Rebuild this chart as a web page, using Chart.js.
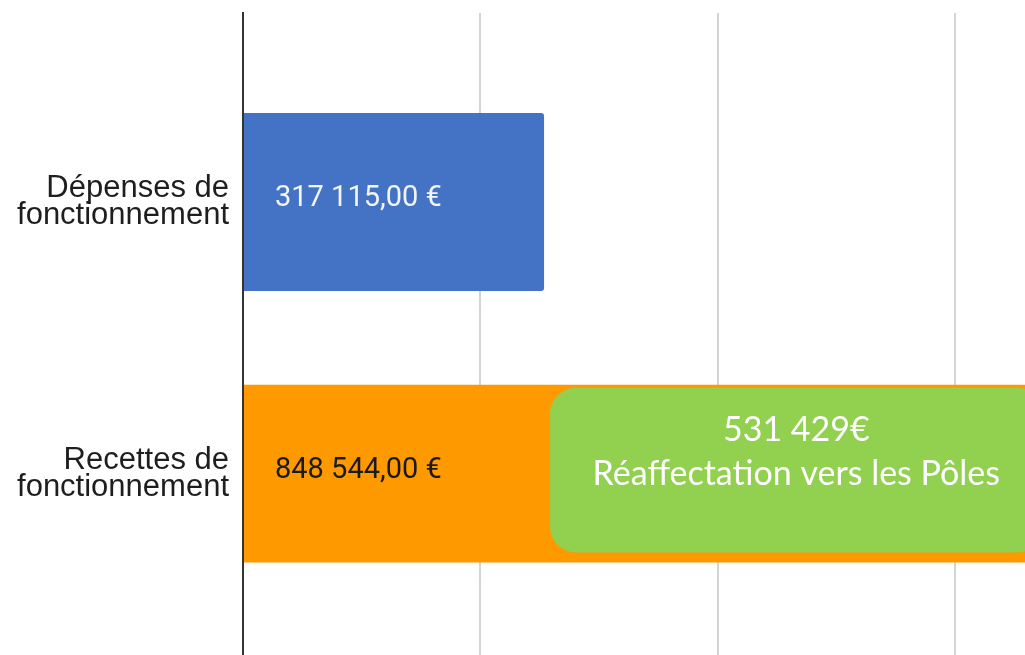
<!DOCTYPE html>
<html>
<head>
<meta charset="utf-8">
<script src="https://cdn.jsdelivr.net/npm/chart.js@4/dist/chart.umd.min.js"></script>
<style>
  body { margin: 0; background: #fff; }
  #wrap { width: 1025px; height: 655px; }
</style>
</head>
<body>
<div id="wrap"><canvas id="myChart"></canvas></div>
<script>
// data
const categories = [["Dépenses de", "fonctionnement"], ["Recettes de", "fonctionnement"]];
const values = [317115, 848544];
const valueLabels = ["317 115,00 €", "848 544,00 €"];
const xTicks = [0, 250000, 500000, 750000];
const reaffectationLines = ["531 429€", "Réaffectation vers les Pôles"];
const barColors = ["#4472c4", "#ff9900"];
const labelColors = ["#f2f5fb", "#1a1a1a"];

// value text inside each bar + green callout on the second bar
const barText = {
  id: "barText",
  afterDatasetsDraw(chart) {
    const c = chart.ctx;
    const meta = chart.getDatasetMeta(0);
    const xs = chart.scales.x;
    c.save();
    c.font = "29px Roboto";
    c.textBaseline = "middle";
    c.textAlign = "left";
    meta.data.forEach((bar, i) => {
      c.fillStyle = labelColors[i];
      c.fillText(valueLabels[i], bar.base + 31, bar.y - 3);
    });

    const b = meta.data[1];
    const x1 = xs.getPixelForValue(values[0]) + 6;
    const x2 = xs.getPixelForValue(values[1]) - 6;
    const y1 = b.y - b.height / 2 + 3;
    const y2 = b.y + b.height / 2 - 10;
    c.fillStyle = "#92d050";
    c.beginPath();
    c.roundRect(x1, y1, x2 - x1, y2 - y1, 26);
    c.fill();
    c.fillStyle = "#ffffff";
    c.font = "34px Lato";
    c.textAlign = "center";
    c.textBaseline = "alphabetic";
    const cx = (x1 + x2) / 2;
    c.fillText(reaffectationLines[0], cx, y1 + 53);
    c.fillText(reaffectationLines[1], cx, y1 + 97);
    c.restore();
  }
};

const ctx = document.getElementById("myChart").getContext("2d");
const myChart = new Chart(ctx, {
  type: "bar",
  data: {
    datasets: [
      {
        data: values.map((v, i) => ({ x: v, y: i })),
        backgroundColor: barColors,
        borderRadius: 3,
        borderSkipped: "start",
        categoryPercentage: 1,
        barPercentage: 0.655,
      },
    ],
  },
  options: {
    indexAxis: "y",
    responsive: true,
    maintainAspectRatio: false,
    animation: false,
    layout: { padding: { top: 13, right: 0, bottom: 0, left: 0 } },
    plugins: {
      legend: { display: false },
      tooltip: { enabled: false },
    },
    scales: {
      x: {
        type: "linear",
        min: 0,
        max: 823700,
        ticks: { display: false },
        afterBuildTicks: (s) => {
          s.ticks = xTicks.map((v) => ({ value: v }));
        },
        afterFit: (s) => {
          s.height = 0;
        },
        grid: { display: true, color: "#d4d4d4", lineWidth: 2, drawTicks: false },
        border: { display: false },
      },
      y: {
        type: "linear",
        reverse: true,
        offset: false,
        min: -0.696,
        max: 1.668,
        afterBuildTicks: (s) => {
          s.ticks = categories.map((c, i) => ({ value: i }));
        },
        afterFit: (s) => {
          s.width = 243;
          s.paddingTop = 0;
          s.paddingBottom = 0;
        },
        ticks: {
          callback: (v) => categories[v],
          color: "#1e1e1e",
          padding: 14,
          font: { family: "Liberation Sans", size: 31, lineHeight: 0.87 },
        },
        grid: { display: false, offset: false, drawTicks: false },
        border: { display: true, color: "#333333", width: 2 },
      },
    },
  },
  plugins: [barText],
});
</script>
</body>
</html>
